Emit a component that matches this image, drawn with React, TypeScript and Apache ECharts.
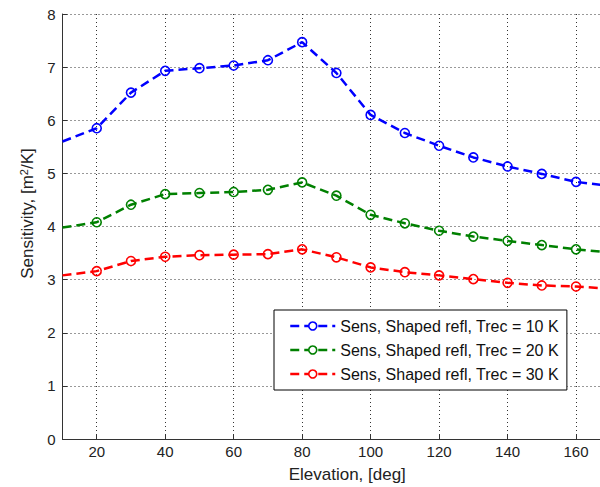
import React, { useEffect, useRef } from "react";
import * as echarts from "echarts";

const elevation = [10, 20, 30, 40, 50, 60, 70, 80, 90, 100, 110, 120, 130, 140, 150, 160, 170];
const sens10K = [5.60, 5.85, 6.52, 6.93, 6.98, 7.03, 7.13, 7.47, 6.89, 6.10, 5.76, 5.52, 5.30, 5.13, 4.99, 4.84, 4.76];
const sens20K = [3.98, 4.08, 4.41, 4.61, 4.63, 4.65, 4.69, 4.83, 4.58, 4.22, 4.06, 3.92, 3.81, 3.73, 3.65, 3.57, 3.51];
const sens30K = [3.08, 3.16, 3.35, 3.43, 3.46, 3.47, 3.48, 3.57, 3.42, 3.23, 3.14, 3.08, 3.01, 2.94, 2.89, 2.87, 2.83];
const seriesNames = [
  "Sens, Shaped refl, Trec = 10 K",
  "Sens, Shaped refl, Trec = 20 K",
  "Sens, Shaped refl, Trec = 30 K",
];
const seriesColors = ["#0000FF", "#008000", "#FF0000"];

const FONT = "'Liberation Sans', Arial, Helvetica, sans-serif";

function buildSeries(name: string, values: number[], color: string) {
  return {
    name,
    type: "line",
    clip: true,
    symbol: "circle",
    symbolSize: 9,
    lineStyle: { color, width: 2.5, type: [9, 5] },
    itemStyle: { color: "rgba(0,0,0,0)", borderColor: color, borderWidth: 1.6 },
    data: elevation.map((x, i) => {
      const edge = i === 0 || i === elevation.length - 1;
      return edge ? { value: [x, values[i]], symbol: "none" } : { value: [x, values[i]] };
    }),
  };
}

export default function App() {
  const ref = useRef<HTMLDivElement>(null);
  useEffect(() => {
    document.body.style.margin = "0";
    if (!ref.current) return;
    const chart = echarts.init(ref.current, undefined, { renderer: "svg" });
    const vals = [sens10K, sens20K, sens30K];
    chart.setOption({
      animation: false,
      backgroundColor: "#fff",
      grid: { left: 62.5, right: 0, top: 14, bottom: 48, containLabel: false, outerBoundsMode: "none" },
      xAxis: {
        type: "value",
        min: 10,
        max: 167,
        splitNumber: 8,
        name: "Elevation, [deg]",
        nameLocation: "middle",
        nameGap: 27,
        nameTextStyle: { fontFamily: FONT, fontSize: 17, color: "#222", padding: [0, 0, 0, 32] },
        axisLine: { show: true, lineStyle: { color: "#333", width: 1 } },
        axisTick: { show: true, inside: true, length: 5, lineStyle: { color: "#333" } },
        axisLabel: { fontFamily: FONT, fontSize: 15, color: "#222", margin: 5, showMinLabel: false, showMaxLabel: false },
        splitLine: { show: true, lineStyle: { color: "#333", type: [1, 3], width: 1 } },
      },
      yAxis: {
        type: "value",
        min: 0,
        max: 8,
        interval: 1,
        name: "Sensitivity, [m{sup|2}/K]",
        nameLocation: "middle",
        nameRotate: 90,
        nameGap: 25,
        nameTextStyle: {
          fontFamily: FONT,
          fontSize: 17,
          color: "#222",
          padding: [0, 0, 0, 26],
          rich: { sup: { fontFamily: FONT, fontSize: 11, color: "#222", verticalAlign: "top", padding: [0, 0, 8, 0] } },
        },
        axisLine: { show: true, lineStyle: { color: "#333", width: 1 } },
        axisTick: { show: true, inside: true, length: 5, lineStyle: { color: "#333" } },
        axisLabel: { fontFamily: FONT, fontSize: 15, color: "#222", margin: 7 },
        splitLine: { show: true, lineStyle: { color: "#333", type: [1, 3], width: 1 } },
      },
      legend: {
        orient: "vertical",
        left: 274,
        top: 310,
        backgroundColor: "#fff",
        borderColor: "#000",
        borderWidth: 1,
        borderRadius: 0,
        padding: [8, 8, 8, 15],
        itemGap: 8,
        itemWidth: 45,
        itemHeight: 10,
        textStyle: { fontFamily: FONT, fontSize: 16, color: "#111" },
        data: seriesNames.map((n, i) => ({
          name: n,
          itemStyle: { color: "#fff", borderColor: seriesColors[i], borderWidth: 1.6 },
          lineStyle: { color: seriesColors[i], width: 2.5, type: [9, 5] },
        })),
      },
      series: seriesNames.map((n, i) => buildSeries(n, vals[i], seriesColors[i])),
    });
    return () => chart.dispose();
  }, []);
  return <div ref={ref} style={{ width: 600, height: 487 }} />;
}
